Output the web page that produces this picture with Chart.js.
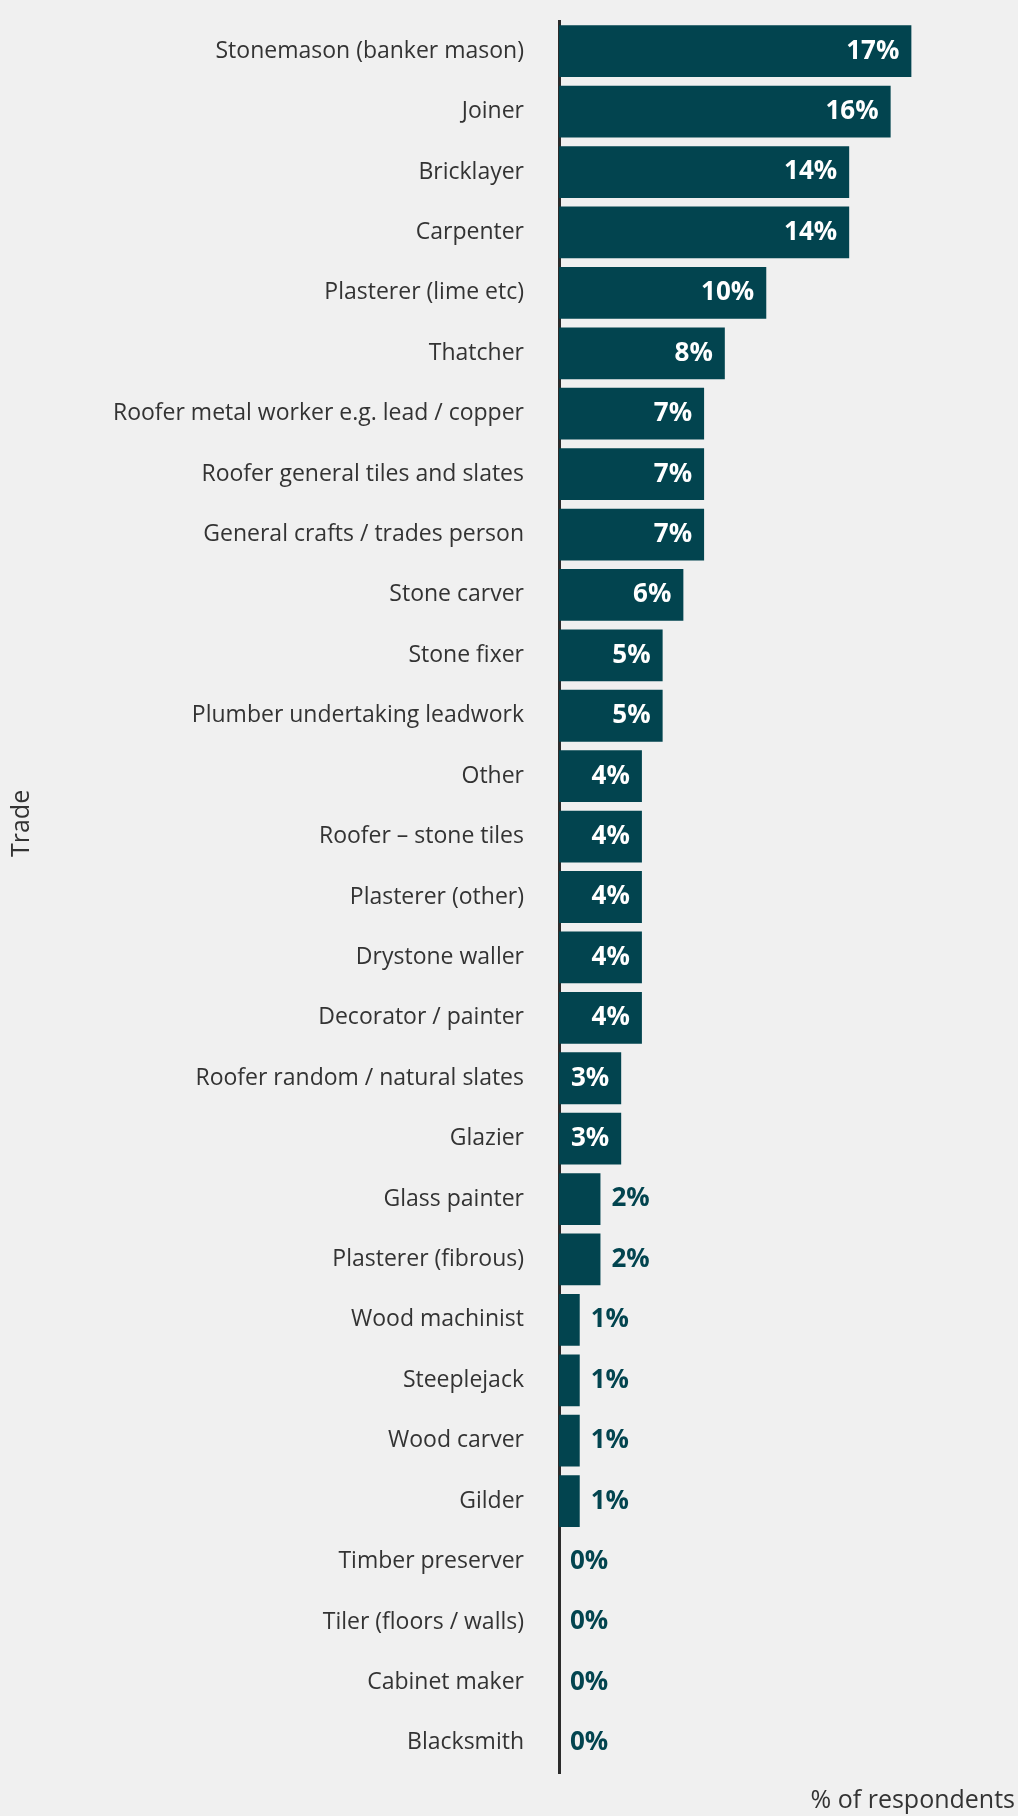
<!DOCTYPE html>
<html>
<head>
<meta charset="utf-8">
<title>Trade – % of respondents</title>
<script src="https://cdn.jsdelivr.net/npm/chart.js@4.4.1/dist/chart.umd.min.js"></script>
<style>
  html, body { margin: 0; padding: 0; background: #f0f0f0; }
  #wrap { width: 1018px; height: 1816px; }
</style>
</head>
<body>
<div id="wrap"><canvas id="tradesChart"></canvas></div>
<script>
// Trades, in the order they are listed (largest share first)
const trades = [
  'Stonemason (banker mason)', 'Joiner', 'Bricklayer', 'Carpenter', 'Plasterer (lime etc)',
  'Thatcher', 'Roofer metal worker e.g. lead / copper', 'Roofer general tiles and slates',
  'General crafts / trades person', 'Stone carver', 'Stone fixer', 'Plumber undertaking leadwork',
  'Other', 'Roofer – stone tiles', 'Plasterer (other)', 'Drystone waller', 'Decorator / painter',
  'Roofer random / natural slates', 'Glazier', 'Glass painter', 'Plasterer (fibrous)',
  'Wood machinist', 'Steeplejack', 'Wood carver', 'Gilder',
  'Timber preserver', 'Tiler (floors / walls)', 'Cabinet maker', 'Blacksmith'
];

// % of respondents for each trade
const shares = [17, 16, 14, 14, 10, 8, 7, 7, 7, 6, 5, 5, 4, 4, 4, 4, 4, 3, 3, 2, 2, 1, 1, 1, 1, 0, 0, 0, 0];

const TEAL = '#02444f';
const INK = '#333333';
const FONT = '"Open Sans", "Noto Sans", sans-serif';

// value labels: white inside the bar when it fits, teal just past the end otherwise
const valueLabels = {
  id: 'valueLabels',
  afterDatasetsDraw(chart) {
    const ctx = chart.ctx;
    const bars = chart.getDatasetMeta(0).data;
    ctx.save();
    ctx.font = 'bold 26px ' + FONT;
    ctx.textBaseline = 'middle';
    bars.forEach(function (bar, i) {
      const text = shares[i] + '%';
      const w = ctx.measureText(text).width;
      const len = bar.x - bar.base;
      if (len >= w + 4) {
        const pad = Math.min(12, (len - w) / 2);
        ctx.fillStyle = '#ffffff';
        ctx.textAlign = 'right';
        ctx.fillText(text, bar.x - pad, bar.y);
      } else {
        ctx.fillStyle = TEAL;
        ctx.textAlign = 'left';
        ctx.fillText(text, bar.x + 11, bar.y);
      }
    });
    ctx.restore();
  }
};

// "Trade" axis title, rotated, sitting a bit above the middle of the plot
const sideTitle = {
  id: 'sideTitle',
  afterDraw(chart) {
    const ctx = chart.ctx;
    const area = chart.chartArea;
    ctx.save();
    ctx.translate(22, area.top + (area.bottom - area.top) * 0.458);
    ctx.rotate(-Math.PI / 2);
    ctx.font = '25px ' + FONT;
    ctx.fillStyle = INK;
    ctx.textAlign = 'center';
    ctx.textBaseline = 'middle';
    ctx.fillText('Trade', 0, 0);
    ctx.restore();
  }
};

new Chart(document.getElementById('tradesChart'), {
  type: 'bar',
  data: {
    labels: trades,
    datasets: [{
      data: shares,
      backgroundColor: TEAL,
      categoryPercentage: 1,
      barPercentage: 0.857
    }]
  },
  plugins: [valueLabels, sideTitle],
  options: {
    indexAxis: 'y',
    responsive: true,
    maintainAspectRatio: false,
    animation: false,
    layout: { padding: { top: 21, right: 3, bottom: 0, left: 0 } },
    plugins: {
      legend: { display: false },
      tooltip: { enabled: false }
    },
    scales: {
      x: {
        min: 0,
        max: 22,
        ticks: { display: false },
        grid: { display: false },
        border: { display: false },
        title: {
          display: true,
          text: '% of respondents',
          align: 'end',
          color: INK,
          font: { family: FONT, size: 25 },
          padding: { top: 5, bottom: 0 }
        }
      },
      y: {
        grid: { display: false, drawTicks: false },
        border: { display: true, color: '#2b2b2b', width: 3 },
        ticks: {
          color: INK,
          padding: 35,
          autoSkip: false,
          font: { family: FONT, size: 23 }
        },
        afterFit: function (scale) {
          // fixed label column; no extra room above/below the first and last rows
          scale.width = 559;
          scale.paddingTop = 0;
          scale.paddingBottom = 0;
        }
      }
    }
  }
});
</script>
</body>
</html>
